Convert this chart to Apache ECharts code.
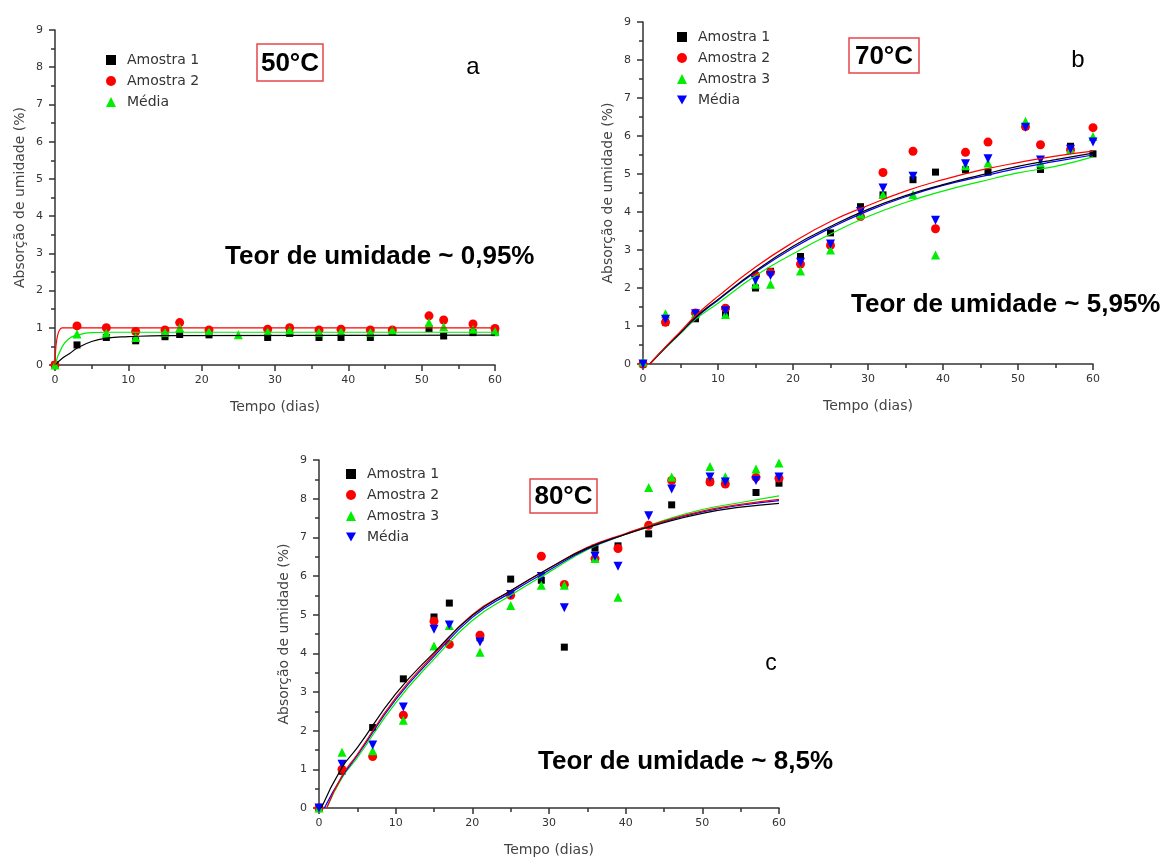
<!DOCTYPE html>
<html>
<head>
<meta charset="utf-8">
<title>Absorção de umidade</title>
<script src="https://cdn.jsdelivr.net/npm/echarts@6/dist/echarts.min.js"></script>
<style>
  html, body {margin: 0; padding: 0; background: #fff;}
  #main {width: 1166px; height: 861px;}
</style>
</head>
<body>
<div id="main"></div>
<script>
// ---- dados ----
// 50°C
var diasA = [0, 3, 7, 11, 15, 17, 21, 25, 29, 32, 36, 39, 43, 46, 51, 53, 57, 60];
var a_amostra1 = [0, 0.54, 0.74, 0.65, 0.76, 0.82, 0.81, null, 0.74, 0.85, 0.74, 0.74, 0.74, 0.9, 0.98, 0.78, 0.87, 0.87];
var a_amostra2 = [0, 1.05, 1.0, 0.9, 0.94, 1.14, 0.94, null, 0.96, 1.0, 0.94, 0.96, 0.94, 0.94, 1.32, 1.21, 1.1, 0.98];
var a_media = [0, 0.83, 0.85, 0.74, 0.87, 1.0, 0.9, 0.81, 0.9, 0.94, 0.88, 0.9, 0.88, 0.94, 1.14, 1.03, 0.96, 0.9];
// curvas de ajuste (pontos lidos)
var fitA_amostra1 = [[0, 0], [1, 0.18], [2, 0.31], [3, 0.45], [5, 0.63], [7, 0.72], [10, 0.76], [15, 0.79], [60, 0.8]];
var fitA_amostra2 = [[0, 0], [1, 1.0], [60, 1.0]];
var fitA_media = [[0, 0], [1, 0.5], [2, 0.72], [3, 0.8], [5, 0.87], [7, 0.88], [60, 0.88]];

// 70°C
var diasB = [0, 3, 7, 11, 15, 17, 21, 25, 29, 32, 36, 39, 43, 46, 51, 53, 57, 60];
var b_amostra1 = [0, 1.1, 1.19, 1.32, 2.0, 2.44, 2.83, 3.45, 4.14, 4.45, 4.85, 5.05, 5.11, 5.05, 6.25, 5.12, 5.73, 5.53];
var b_amostra2 = [0, 1.1, 1.34, 1.47, 2.34, 2.41, 2.63, 3.12, 3.88, 5.04, 5.6, 3.56, 5.57, 5.84, 6.25, 5.77, 5.64, 6.22];
var b_amostra3 = [0.05, 1.32, 1.32, 1.3, 2.1, 2.1, 2.45, 3.0, 3.95, 4.46, 4.46, 2.87, 5.22, 5.29, 6.39, 5.29, 5.65, 5.99];
var b_media = [0, 1.18, 1.32, 1.4, 2.2, 2.33, 2.68, 3.16, 4.01, 4.63, 4.94, 3.78, 5.27, 5.4, 6.23, 5.37, 5.65, 5.84];
var fitB_x = [0.9, 3, 5, 7, 10, 15, 20, 25, 30, 35, 40, 45, 50, 55, 60];
var fitB_amostra1 = [0, 0.44, 0.83, 1.23, 1.7, 2.45, 3.1, 3.62, 4.07, 4.43, 4.72, 4.97, 5.2, 5.38, 5.55];
var fitB_amostra2 = [0, 0.45, 0.86, 1.27, 1.78, 2.55, 3.2, 3.75, 4.17, 4.55, 4.85, 5.1, 5.3, 5.47, 5.6];
var fitB_amostra3 = [0, 0.42, 0.8, 1.18, 1.6, 2.32, 2.9, 3.42, 3.88, 4.25, 4.55, 4.8, 5.03, 5.2, 5.45];
var fitB_media = [0, 0.43, 0.82, 1.21, 1.68, 2.42, 3.05, 3.58, 4.03, 4.4, 4.7, 4.93, 5.15, 5.33, 5.5];

// 80°C
var diasC = [0, 3, 7, 11, 15, 17, 21, 25, 29, 32, 36, 39, 43, 46, 51, 53, 57, 60];
var c_amostra1 = [0, 0.95, 2.08, 3.34, 4.94, 5.3, 4.4, 5.92, 5.89, 4.16, 6.72, 6.78, 7.09, 7.84, 8.45, 8.4, 8.16, 8.4];
var c_amostra2 = [0, 1.0, 1.33, 2.4, 4.83, 4.23, 4.47, 5.5, 6.51, 5.78, 6.45, 6.71, 7.31, 8.47, 8.43, 8.38, 8.55, 8.53];
var c_amostra3 = [0, 1.44, 1.48, 2.27, 4.19, 4.72, 4.03, 5.24, 5.76, 5.76, 6.45, 5.45, 8.29, 8.56, 8.83, 8.57, 8.77, 8.92];
var c_media = [0, 1.13, 1.63, 2.61, 4.62, 4.73, 4.29, 5.52, 5.99, 5.18, 6.51, 6.25, 7.56, 8.25, 8.56, 8.43, 8.47, 8.56];
var fitC_x = [0.3, 3, 5, 10, 15, 20, 25, 30, 35, 40, 45, 50, 55, 60];
var fitC_amostra1 = [0, 1.05, 1.56, 2.95, 4.02, 4.98, 5.62, 6.2, 6.72, 7.08, 7.38, 7.62, 7.78, 7.88];
var fitC_amostra2 = [null, 0.83, 1.39, 2.85, 3.97, 5.0, 5.62, 6.2, 6.74, 7.1, 7.42, 7.68, 7.85, 7.98];
var fitC_amostra3 = [null, 0.78, 1.3, 2.72, 3.85, 4.85, 5.5, 6.1, 6.68, 7.08, 7.44, 7.72, 7.9, 8.07];
var fitC_media = [null, 0.81, 1.36, 2.8, 3.92, 4.93, 5.57, 6.15, 6.7, 7.08, 7.41, 7.66, 7.83, 7.95];
var fitC_start = [1, 0]; // curvas vermelha/verde/azul saem de ~1 dia

var yTicks = [0, 1, 2, 3, 4, 5, 6, 7, 8, 9];

var cores = {a1: '#000000', a2: '#ff0000', a3: '#00ee00', media: '#0000ff'};
var fonteEixo = 'DejaVu Sans';
var trianguloBaixo = 'path://M0,0 L10,0 L5,9 Z';

function pares(xs, ys, inicio) {
    var out = [];
    if (inicio) out.push(inicio);
    xs.forEach(function (x, i) {
        if (ys[i] !== null) out.push([x, ys[i]]);
    });
    return out;
}

function eixoX(g) {
    return {
        type: 'value', gridIndex: g, min: 0, max: 60, interval: 10,
        name: 'Tempo (dias)', nameLocation: 'middle', nameGap: 35,
        nameTextStyle: {fontFamily: fonteEixo, fontSize: 14, color: '#444'},
        axisLine: {onZero: false, lineStyle: {color: '#333', width: 1.5}},
        axisTick: {length: 6, lineStyle: {color: '#333', width: 1.5}},
        minorTick: {show: true, splitNumber: 2, length: 4, lineStyle: {color: '#333', width: 1.5}},
        splitLine: {show: false},
        axisLabel: {fontFamily: fonteEixo, fontSize: 11, color: '#333', margin: 10}
    };
}

function eixoY(g) {
    return {
        type: 'value', gridIndex: g, min: 0, max: 9, interval: 1,
        name: 'Absorção de umidade (%)', nameLocation: 'middle', nameGap: 28,
        nameTextStyle: {fontFamily: fonteEixo, fontSize: 14, color: '#444'},
        axisLine: {show: true, onZero: false, lineStyle: {color: '#333', width: 1.5}},
        axisTick: {show: true, length: 6, lineStyle: {color: '#333', width: 1.5}},
        minorTick: {show: true, splitNumber: 2, length: 4, lineStyle: {color: '#333', width: 1.5}},
        splitLine: {show: false},
        axisLabel: {formatter: function (v) { return yTicks.indexOf(v) >= 0 ? v : ''; },
            fontFamily: fonteEixo, fontSize: 11, color: '#333', margin: 12}
    };
}

function pontos(nome, g, xs, ys, cor, simbolo, tam) {
    return {
        name: nome, type: 'scatter', xAxisIndex: g, yAxisIndex: g,
        symbol: simbolo, symbolSize: tam,
        itemStyle: {color: cor, opacity: 1}, clip: false,
        data: pares(xs, ys)
    };
}

function curva(g, dados, cor) {
    return {
        type: 'line', xAxisIndex: g, yAxisIndex: g, smooth: true,
        showSymbol: false, symbol: 'none', silent: true,
        lineStyle: {color: cor, width: 1.2},
        data: dados
    };
}

function legenda(nomes, left, top) {
    return {
        orient: 'vertical', left: left, top: top, selectedMode: false,
        itemWidth: 10, itemHeight: 10, itemGap: 7,
        data: nomes,
        formatter: function (n) { return n.split('|')[1]; },
        textStyle: {fontFamily: fonteEixo, fontSize: 14, color: '#333', padding: [0, 0, 0, 6]}
    };
}

function caixa(txt, x, y, w, h) {
    return [{
        type: 'rect', shape: {x: x, y: y, width: w, height: h},
        style: {fill: 'none', stroke: '#e8474a', lineWidth: 1.5}
    }, {
        type: 'text', x: x + w / 2, y: y + h / 2 + 1,
        style: {text: txt, font: 'bold 26px "Liberation Sans"', fill: '#000', align: 'center', verticalAlign: 'middle'}
    }];
}

function texto(txt, x, y, font, align) {
    return {
        type: 'text', x: x, y: y,
        style: {text: txt, font: font, fill: '#000', align: align || 'left', verticalAlign: 'middle'}
    };
}

var myChart = echarts.init(document.getElementById('main'), null, {renderer: 'canvas'});

var option = {
    backgroundColor: '#fff',
    animation: false,
    grid: [
        {left: 55, top: 30, width: 440, height: 335, outerBoundsMode: 'none'},
        {left: 643, top: 22, width: 450, height: 342, outerBoundsMode: 'none'},
        {left: 319, top: 460, width: 460, height: 348, outerBoundsMode: 'none'}
    ],
    xAxis: [eixoX(0), eixoX(1), eixoX(2)],
    yAxis: [eixoY(0), eixoY(1), eixoY(2)],
    legend: [
        legenda(['a|Amostra 1', 'a|Amostra 2', 'a|Média'], 101, 48),
        legenda(['b|Amostra 1', 'b|Amostra 2', 'b|Amostra 3', {name: 'b|Média', icon: trianguloBaixo}], 672, 25),
        legenda(['c|Amostra 1', 'c|Amostra 2', 'c|Amostra 3', {name: 'c|Média', icon: trianguloBaixo}], 341, 462)
    ],
    graphic: [].concat(
        caixa('50°C', 257, 44, 66, 37),
        caixa('70°C', 849, 38, 70, 35),
        caixa('80°C', 530, 479, 67, 34),
        [
            texto('a', 473, 67, '24px "Liberation Sans"', 'center'),
            texto('b', 1078, 60, '24px "Liberation Sans"', 'center'),
            texto('c', 771, 664, '23px "Liberation Sans"', 'center'),
            texto('Teor de umidade ~ 0,95%', 225, 257, 'bold 26px "Liberation Sans"'),
            texto('Teor de umidade ~ 5,95%', 851, 305, 'bold 26px "Liberation Sans"'),
            texto('Teor de umidade ~ 8,5%', 538, 762, 'bold 26px "Liberation Sans"')
        ]
    ),
    series: [
        // 50°C
        curva(0, fitA_amostra1, cores.a1),
        curva(0, fitA_media, cores.a3),
        curva(0, fitA_amostra2, cores.a2),
        pontos('a|Amostra 1', 0, diasA, a_amostra1, cores.a1, 'rect', 7),
        pontos('a|Amostra 2', 0, diasA, a_amostra2, cores.a2, 'circle', 9),
        pontos('a|Média', 0, diasA, a_media, cores.a3, 'triangle', 9),
        // 70°C
        curva(1, pares(fitB_x, fitB_amostra3), cores.a3),
        curva(1, pares(fitB_x, fitB_media), cores.media),
        curva(1, pares(fitB_x, fitB_amostra1), cores.a1),
        curva(1, pares(fitB_x, fitB_amostra2), cores.a2),
        pontos('b|Amostra 1', 1, diasB, b_amostra1, cores.a1, 'rect', 7),
        pontos('b|Amostra 2', 1, diasB, b_amostra2, cores.a2, 'circle', 9),
        pontos('b|Amostra 3', 1, diasB, b_amostra3, cores.a3, 'triangle', 9),
        pontos('b|Média', 1, diasB, b_media, cores.media, trianguloBaixo, 9),
        // 80°C
        curva(2, pares(fitC_x, fitC_amostra3, fitC_start), cores.a3),
        curva(2, pares(fitC_x, fitC_media, [0.7, 0]), cores.media),
        curva(2, pares(fitC_x, fitC_amostra2, fitC_start), cores.a2),
        curva(2, pares(fitC_x, fitC_amostra1), cores.a1),
        pontos('c|Amostra 1', 2, diasC, c_amostra1, cores.a1, 'rect', 7),
        pontos('c|Amostra 2', 2, diasC, c_amostra2, cores.a2, 'circle', 9),
        pontos('c|Amostra 3', 2, diasC, c_amostra3, cores.a3, 'triangle', 9),
        pontos('c|Média', 2, diasC, c_media, cores.media, trianguloBaixo, 9)
    ]
};
myChart.setOption(option);
</script>
</body>
</html>
